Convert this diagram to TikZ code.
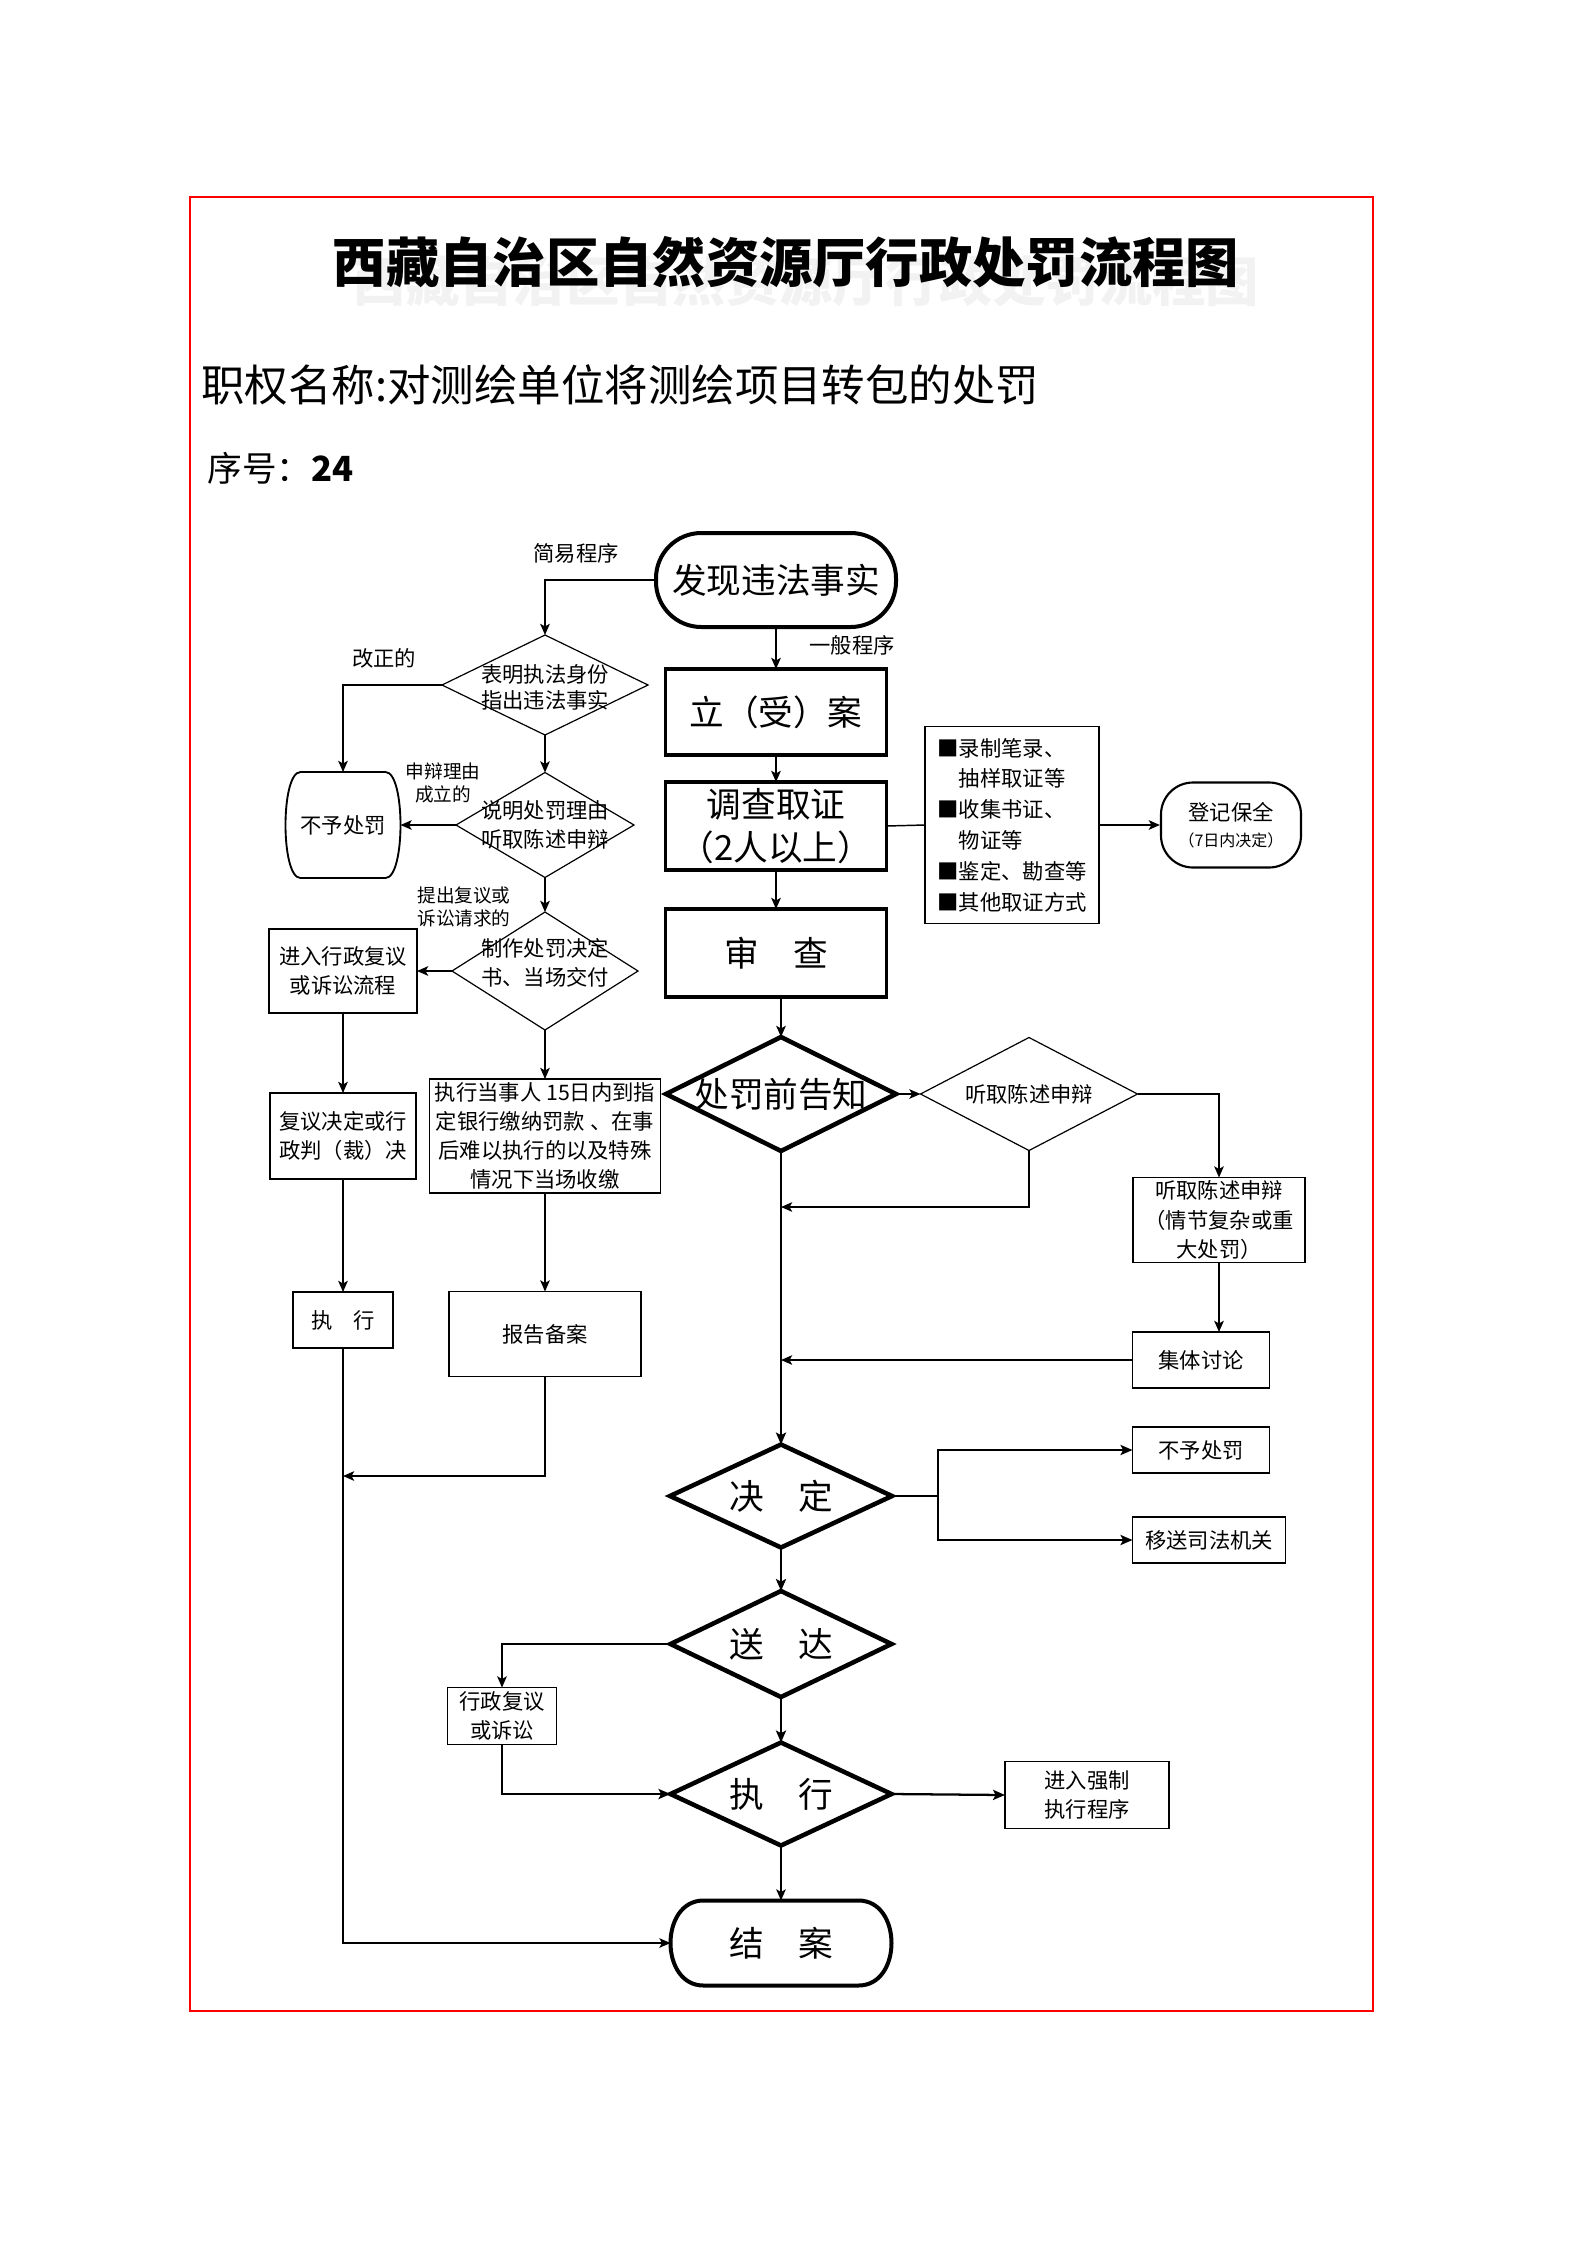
\documentclass[tikz,border=0pt]{standalone}
\usepackage{fontspec}
\setmainfont{Noto Sans CJK SC}
\usetikzlibrary{shapes.geometric,arrows.meta}
\newlength\pu
\setlength\pu{0.3751pt}
\newcommand\fsT{\fontsize{20pt}{24pt}\selectfont}
\newcommand\fsH{\fontsize{16.3pt}{20pt}\selectfont}
\newcommand\fsQ{\fontsize{13pt}{16pt}\selectfont}
\newcommand\fsB{\fontsize{13pt}{16.1pt}\selectfont}
\newcommand\fsS{\fontsize{8pt}{10.9pt}\selectfont}
\newcommand\fsE{\fontsize{8pt}{11.55pt}\selectfont}
\newcommand\fsX{\fontsize{7pt}{8.4pt}\selectfont}
\newcommand\fsXs{\fontsize{6pt}{8pt}\selectfont}
\begin{document}
\begin{tikzpicture}[x=0.3751pt,y=-0.3751pt,
  sz/.style 2 args={minimum width=#1\pu, minimum height=#2\pu},
  box/.style={draw, line width=0.7pt, inner sep=0pt, outer sep=0pt, align=center, font=\fsS},
  tbox/.style={draw, line width=1.3pt, inner sep=0pt, outer sep=0pt, align=center, font=\fsB},
  dia/.style={diamond, draw, line width=0.45pt, inner sep=0pt, outer sep=0pt},
  tdia/.style={diamond, draw, line width=1.7pt, inner sep=0pt, outer sep=0pt},
  lab/.style={font=\fsS, inner sep=0pt, align=center},
  plain/.style={line width=0.55pt},
  con/.style={line width=0.55pt, -{Stealth[length=4.2pt,width=3.6pt,inset=1pt]}},
  conm/.style={line width=0.85pt, -{Stealth[length=4.5pt,width=3.8pt,inset=1pt]}}
]
\useasboundingbox (0,0) rectangle (1587,2245);
\draw[red, line width=0.75pt] (190,197) rectangle (1373,2011);

% headings
\node[inner sep=0pt, font=\fsT\bfseries, text=black!5] (titleshadow) at (806,281) {西藏自治区自然资源厅行政处罚流程图};
\node[inner sep=0pt, font=\fsT\bfseries] (title) at (786,262) {西藏自治区自然资源厅行政处罚流程图};
\node[inner sep=0pt, font=\fsH, anchor=west] (name) at (201,385) {职权名称:对测绘单位将测绘项目转包的处罚};
\node[inner sep=0pt, font=\fsQ, anchor=west] (seq) at (207,468) {序号：\textbf{24}};

% top of the flow
\node[draw, line width=1.5pt, rounded corners=17pt, sz={240}{94}, inner sep=0pt, font=\fsB] (find) at (776,580) {发现违法事实};
\node[lab] (simp) at (576,553) {简易程序};
\node[lab] (yb) at (852,645) {一般程序};

% simple procedure (left)
\node[dia, sz={206}{100}, label={[font=\fsS,align=center,inner sep=0pt,yshift=-1pt]center:{表明执法身份\\[-1.2pt]指出违法事实}}] (d1) at (545,685) {};
\node[lab] (gzd) at (384,658) {改正的};
\node[sz={115}{106}, inner sep=0pt, outer sep=0pt, font=\fsS] (nop1) at (343,825) {不予处罚};
\draw[line width=0.7pt] ([xshift=15\pu]nop1.north west) -- ([xshift=-15\pu]nop1.north east)
  .. controls ([xshift=5\pu]nop1.north east) and ([xshift=5\pu]nop1.south east) .. ([xshift=-15\pu]nop1.south east)
  -- ([xshift=15\pu]nop1.south west)
  .. controls ([xshift=-5\pu]nop1.south west) and ([xshift=-5\pu]nop1.north west) .. cycle;
\node[dia, sz={178}{105}, label={[font=\fsS,align=center,inner sep=0pt]center:{说明处罚理由\\听取陈述申辩}}] (d2) at (545,825) {};
\node[lab, font=\fsX] (sbl) at (443,783) {申辩理由\\成立的};
\node[dia, sz={186}{118}, label={[font=\fsS,align=center,inner sep=0pt,yshift=3pt]center:{制作处罚决定\\书、当场交付}}] (d3) at (545,971) {};
\node[lab, font=\fsX] (tcf) at (464,907) {提出复议或\\诉讼请求的};
\node[box, sz={148}{84}] (fy) at (343,971) {进入行政复议\\或诉讼流程};
\node[box, sz={146}{86}] (fyjd) at (343,1136) {复议决定或行\\政判（裁）决};
\node[box, sz={231}{114}] (zxdsr) at (545,1136) {执行当事人 15日内到指\\定银行缴纳罚款 、在事\\后难以执行的以及特殊\\情况下当场收缴};
\node[box, sz={100}{56}] (zx1) at (343,1320) {执\hspace{1em}行};
\node[box, sz={192}{85}] (bgba) at (545,1334) {报告备案};
\coordinate (m1) at (343,1476);

% general procedure (centre)
\node[tbox, sz={221}{86}] (la) at (776,712) {立（受）案};
\node[tbox, sz={221}{88}] (dc) at (776,826) {调查取证\\（2人以上）};
\node[tbox, sz={221}{88}] (sc) at (776,953) {审\hspace{1em}查};
\node[box, sz={174}{197}, align=left, font=\fsE] (ev) at (1012,825) {■录制笔录、\\\phantom{■}抽样取证等\\■收集书证、\\\phantom{■}物证等\\■鉴定、勘查等\\■其他取证方式};
\node[draw, line width=0.8pt, rounded corners=12pt, sz={140}{85}, inner sep=0pt, align=center, font=\fsS] (djbq) at (1231,825) {登记保全\\[-1pt]{\fsXs （7日内决定）}};

\node[tdia, sz={230}{114}, label={[font=\fsB,inner sep=0pt]center:{处罚前告知}}] (cfq) at (781,1094) {};
\node[dia, sz={217}{113}, label={[font=\fsS,inner sep=0pt]center:{听取陈述申辩}}] (tq) at (1029,1094) {};
\node[box, sz={172}{85}] (tqbox) at (1219,1220) {听取陈述申辩\\（情节复杂或重\\大处罚）};
\coordinate (m2) at (781,1207);
\node[box, sz={137}{56}] (jt) at (1201,1360) {集体讨论};
\coordinate (m3) at (781,1360);
\node[tdia, sz={222}{103}, label={[font=\fsB,inner sep=0pt]center:{决\hspace{1em}定}}] (jd) at (781,1496) {};
\coordinate (m4) at (938,1496);
\node[box, sz={137}{46}] (nop2) at (1201,1450) {不予处罚};
\node[box, sz={153}{46}] (ys) at (1209,1540) {移送司法机关};
\node[tdia, sz={221}{106}, label={[font=\fsB,inner sep=0pt]center:{送\hspace{1em}达}}] (sd) at (781,1644) {};
\node[box, sz={109}{57}] (xzfy) at (502,1716) {行政复议\\或诉讼};
\node[tdia, sz={221}{103}, label={[font=\fsB,inner sep=0pt]center:{执\hspace{1em}行}}] (zx2) at (781,1794) {};
\node[box, sz={164}{67}] (qz) at (1087,1795) {进入强制\\执行程序};
\node[sz={221}{85}, inner sep=0pt, outer sep=0pt, font=\fsB] (ja) at (781,1943) {结\hspace{1em}案};
\draw[line width=1.5pt] ([xshift=33\pu]ja.north west) -- ([xshift=-33\pu]ja.north east)
  .. controls ([xshift=11\pu]ja.north east) and ([xshift=11\pu]ja.south east) .. ([xshift=-33\pu]ja.south east)
  -- ([xshift=33\pu]ja.south west)
  .. controls ([xshift=-11\pu]ja.south west) and ([xshift=-11\pu]ja.north west) .. cycle;

% connectors
\draw[con] (find.west) -| (d1.north);
\draw[con] (find.south) -- (la.north);
\draw[con] (d1.west) -| (nop1.north);
\draw[con] (d1.south) -- (d2.north);
\draw[con] (d2.west) -- (nop1.east);
\draw[con] (d2.south) -- (d3.north);
\draw[con] (d3.west) -- (fy.east);
\draw[con] (fy.south) -- (fyjd.north);
\draw[con] (d3.south) -- (zxdsr.north);
\draw[con] (fyjd.south) -- (zx1.north);
\draw[con] (zxdsr.south) -- (bgba.north);
\draw[con] (bgba.south) |- (m1);
\draw[con] (zx1.south) |- (ja.west);
\draw[con] (la.south) -- (dc.north);
\draw[plain] (dc.east) -- (ev.west);
\draw[con] (ev.east) -- (djbq.west);
\draw[con] (dc.south) -- (sc.north);
\draw[con] (sc.south -| cfq.north) -- (cfq.north);
\draw[con] (cfq.east) -- (tq.west);
\draw[con] (tq.east) -| (tqbox.north);
\draw[con] (tq.south) |- (m2);
\draw[con] (tqbox.south) -- (tqbox.south |- jt.north);
\draw[con] (jt.west) -- (m3);
\draw[conm] (cfq.south) -- (jd.north);
\draw[line width=0.85pt] (jd.east) -- (m4);
\draw[conm] (m4) |- (nop2.west);
\draw[conm] (m4) |- (ys.west);
\draw[conm] (jd.south) -- (sd.north);
\draw[con] (sd.west) -| (xzfy.north);
\draw[conm] (sd.south) -- (zx2.north);
\draw[conm] (xzfy.south) |- (zx2.west);
\draw[conm] (zx2.east) -- (qz.west);
\draw[con] (zx2.south) -- (ja.north);
\end{tikzpicture}
\end{document}
